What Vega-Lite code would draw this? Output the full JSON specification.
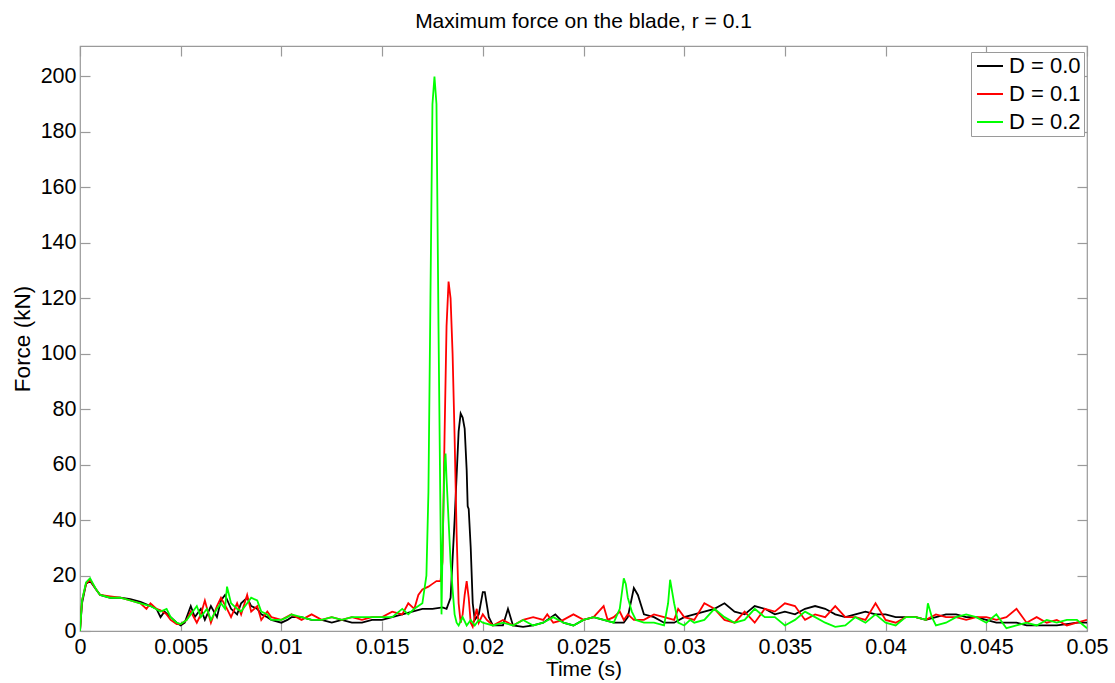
{
"$schema":"https://vega.github.io/schema/vega-lite/v6.json",
"width":1007,"height":585,
"autosize":{"type":"none"},
"padding":{"left":80,"top":46,"right":28,"bottom":52},
"background":"white",
"config":{"font":"Liberation Sans","view":{"stroke":"#9a9a9a","strokeWidth":1.2},
"axis":{"grid":false,"domain":false,"tickColor":"#9a9a9a","tickSize":-10,"tickWidth":1.2,"labelColor":"black","labelFontSize":21.5,"labelFont":"Liberation Sans","titleFont":"Liberation Sans","titleFontWeight":"normal","titleColor":"black","titleFontSize":22.5}},
"title":{"text":"Maximum force on the blade, r = 0.1","fontSize":21,"fontWeight":"normal","font":"Liberation Sans","offset":13,"anchor":"middle","color":"black"},
"datasets":{"s":[
{"t":0,"F":0,"D":"D = 0.0"},{"t":0.0001,"F":10,"D":"D = 0.0"},{"t":0.0003,"F":17,"D":"D = 0.0"},{"t":0.0005,"F":18,"D":"D = 0.0"},{"t":0.0008,"F":15,"D":"D = 0.0"},{"t":0.001,"F":13,"D":"D = 0.0"},{"t":0.0015,"F":12,"D":"D = 0.0"},{"t":0.002,"F":12,"D":"D = 0.0"},{"t":0.0025,"F":11.5,"D":"D = 0.0"},{"t":0.003,"F":10.5,"D":"D = 0.0"},{"t":0.0035,"F":9,"D":"D = 0.0"},{"t":0.0038,"F":8,"D":"D = 0.0"},{"t":0.004,"F":5,"D":"D = 0.0"},{"t":0.0042,"F":7,"D":"D = 0.0"},{"t":0.0045,"F":5,"D":"D = 0.0"},{"t":0.0048,"F":3,"D":"D = 0.0"},{"t":0.005,"F":2,"D":"D = 0.0"},{"t":0.0052,"F":3,"D":"D = 0.0"},{"t":0.0055,"F":9,"D":"D = 0.0"},{"t":0.0057,"F":5,"D":"D = 0.0"},{"t":0.006,"F":8,"D":"D = 0.0"},{"t":0.0062,"F":4,"D":"D = 0.0"},{"t":0.0065,"F":9,"D":"D = 0.0"},{"t":0.0068,"F":5,"D":"D = 0.0"},{"t":0.007,"F":11,"D":"D = 0.0"},{"t":0.0072,"F":13,"D":"D = 0.0"},{"t":0.0075,"F":8,"D":"D = 0.0"},{"t":0.0078,"F":6,"D":"D = 0.0"},{"t":0.008,"F":10,"D":"D = 0.0"},{"t":0.0083,"F":12,"D":"D = 0.0"},{"t":0.0085,"F":9,"D":"D = 0.0"},{"t":0.0088,"F":8,"D":"D = 0.0"},{"t":0.009,"F":6,"D":"D = 0.0"},{"t":0.0093,"F":5,"D":"D = 0.0"},{"t":0.0095,"F":4,"D":"D = 0.0"},{"t":0.01,"F":3,"D":"D = 0.0"},{"t":0.0103,"F":4,"D":"D = 0.0"},{"t":0.0105,"F":5,"D":"D = 0.0"},{"t":0.011,"F":5,"D":"D = 0.0"},{"t":0.0115,"F":4,"D":"D = 0.0"},{"t":0.012,"F":4,"D":"D = 0.0"},{"t":0.0125,"F":3,"D":"D = 0.0"},{"t":0.013,"F":4,"D":"D = 0.0"},{"t":0.0135,"F":3,"D":"D = 0.0"},{"t":0.014,"F":3,"D":"D = 0.0"},{"t":0.0145,"F":4,"D":"D = 0.0"},{"t":0.015,"F":4,"D":"D = 0.0"},{"t":0.0155,"F":5,"D":"D = 0.0"},{"t":0.016,"F":6,"D":"D = 0.0"},{"t":0.0165,"F":7,"D":"D = 0.0"},{"t":0.017,"F":8,"D":"D = 0.0"},{"t":0.0175,"F":8,"D":"D = 0.0"},{"t":0.018,"F":8.5,"D":"D = 0.0"},{"t":0.0182,"F":8,"D":"D = 0.0"},{"t":0.0184,"F":12,"D":"D = 0.0"},{"t":0.0186,"F":40,"D":"D = 0.0"},{"t":0.0188,"F":72,"D":"D = 0.0"},{"t":0.0189,"F":78.5,"D":"D = 0.0"},{"t":0.019,"F":77,"D":"D = 0.0"},{"t":0.0191,"F":73,"D":"D = 0.0"},{"t":0.0192,"F":58,"D":"D = 0.0"},{"t":0.01925,"F":45,"D":"D = 0.0"},{"t":0.0193,"F":44,"D":"D = 0.0"},{"t":0.0194,"F":30,"D":"D = 0.0"},{"t":0.0195,"F":10,"D":"D = 0.0"},{"t":0.0196,"F":4,"D":"D = 0.0"},{"t":0.0198,"F":6,"D":"D = 0.0"},{"t":0.02,"F":14,"D":"D = 0.0"},{"t":0.0201,"F":14,"D":"D = 0.0"},{"t":0.0203,"F":5,"D":"D = 0.0"},{"t":0.0205,"F":2,"D":"D = 0.0"},{"t":0.021,"F":2,"D":"D = 0.0"},{"t":0.02125,"F":8,"D":"D = 0.0"},{"t":0.0215,"F":2,"D":"D = 0.0"},{"t":0.022,"F":1.5,"D":"D = 0.0"},{"t":0.0225,"F":2,"D":"D = 0.0"},{"t":0.023,"F":3,"D":"D = 0.0"},{"t":0.0236,"F":6,"D":"D = 0.0"},{"t":0.024,"F":3,"D":"D = 0.0"},{"t":0.0245,"F":2,"D":"D = 0.0"},{"t":0.025,"F":4,"D":"D = 0.0"},{"t":0.0255,"F":5,"D":"D = 0.0"},{"t":0.026,"F":4,"D":"D = 0.0"},{"t":0.0265,"F":3,"D":"D = 0.0"},{"t":0.027,"F":3,"D":"D = 0.0"},{"t":0.0272,"F":5,"D":"D = 0.0"},{"t":0.0274,"F":12,"D":"D = 0.0"},{"t":0.0275,"F":15.5,"D":"D = 0.0"},{"t":0.0277,"F":13,"D":"D = 0.0"},{"t":0.028,"F":6,"D":"D = 0.0"},{"t":0.0285,"F":5,"D":"D = 0.0"},{"t":0.029,"F":3,"D":"D = 0.0"},{"t":0.0295,"F":3,"D":"D = 0.0"},{"t":0.03,"F":5,"D":"D = 0.0"},{"t":0.0305,"F":6,"D":"D = 0.0"},{"t":0.031,"F":7,"D":"D = 0.0"},{"t":0.0315,"F":8,"D":"D = 0.0"},{"t":0.032,"F":10,"D":"D = 0.0"},{"t":0.0325,"F":7,"D":"D = 0.0"},{"t":0.033,"F":6,"D":"D = 0.0"},{"t":0.0335,"F":9,"D":"D = 0.0"},{"t":0.034,"F":8,"D":"D = 0.0"},{"t":0.0345,"F":6,"D":"D = 0.0"},{"t":0.035,"F":7,"D":"D = 0.0"},{"t":0.0355,"F":6,"D":"D = 0.0"},{"t":0.036,"F":8,"D":"D = 0.0"},{"t":0.0365,"F":9,"D":"D = 0.0"},{"t":0.037,"F":8,"D":"D = 0.0"},{"t":0.0375,"F":6,"D":"D = 0.0"},{"t":0.038,"F":5,"D":"D = 0.0"},{"t":0.0385,"F":6,"D":"D = 0.0"},{"t":0.039,"F":7,"D":"D = 0.0"},{"t":0.0395,"F":6,"D":"D = 0.0"},{"t":0.04,"F":6,"D":"D = 0.0"},{"t":0.0405,"F":5,"D":"D = 0.0"},{"t":0.041,"F":5,"D":"D = 0.0"},{"t":0.0415,"F":5,"D":"D = 0.0"},{"t":0.042,"F":4,"D":"D = 0.0"},{"t":0.0425,"F":5,"D":"D = 0.0"},{"t":0.043,"F":6,"D":"D = 0.0"},{"t":0.0435,"F":6,"D":"D = 0.0"},{"t":0.044,"F":5,"D":"D = 0.0"},{"t":0.0445,"F":5,"D":"D = 0.0"},{"t":0.045,"F":4,"D":"D = 0.0"},{"t":0.0455,"F":3,"D":"D = 0.0"},{"t":0.046,"F":3,"D":"D = 0.0"},{"t":0.0465,"F":3,"D":"D = 0.0"},{"t":0.047,"F":2,"D":"D = 0.0"},{"t":0.0475,"F":2,"D":"D = 0.0"},{"t":0.048,"F":2,"D":"D = 0.0"},{"t":0.0485,"F":2,"D":"D = 0.0"},{"t":0.049,"F":2.5,"D":"D = 0.0"},{"t":0.0495,"F":3,"D":"D = 0.0"},{"t":0.05,"F":3,"D":"D = 0.0"},
{"t":0,"F":0,"D":"D = 0.1"},{"t":0.0001,"F":11,"D":"D = 0.1"},{"t":0.0003,"F":17,"D":"D = 0.1"},{"t":0.0005,"F":18.5,"D":"D = 0.1"},{"t":0.0008,"F":15,"D":"D = 0.1"},{"t":0.001,"F":13,"D":"D = 0.1"},{"t":0.0015,"F":12.5,"D":"D = 0.1"},{"t":0.002,"F":12,"D":"D = 0.1"},{"t":0.0025,"F":11,"D":"D = 0.1"},{"t":0.003,"F":10,"D":"D = 0.1"},{"t":0.0033,"F":8,"D":"D = 0.1"},{"t":0.0035,"F":10,"D":"D = 0.1"},{"t":0.0038,"F":8,"D":"D = 0.1"},{"t":0.004,"F":7.5,"D":"D = 0.1"},{"t":0.0043,"F":6,"D":"D = 0.1"},{"t":0.0045,"F":4,"D":"D = 0.1"},{"t":0.0048,"F":2.5,"D":"D = 0.1"},{"t":0.005,"F":2.5,"D":"D = 0.1"},{"t":0.0053,"F":4,"D":"D = 0.1"},{"t":0.0055,"F":7,"D":"D = 0.1"},{"t":0.0058,"F":3,"D":"D = 0.1"},{"t":0.006,"F":6,"D":"D = 0.1"},{"t":0.0062,"F":11,"D":"D = 0.1"},{"t":0.0065,"F":3,"D":"D = 0.1"},{"t":0.0068,"F":9,"D":"D = 0.1"},{"t":0.007,"F":12,"D":"D = 0.1"},{"t":0.0073,"F":8,"D":"D = 0.1"},{"t":0.0075,"F":5,"D":"D = 0.1"},{"t":0.0078,"F":10,"D":"D = 0.1"},{"t":0.008,"F":6,"D":"D = 0.1"},{"t":0.0083,"F":13,"D":"D = 0.1"},{"t":0.0085,"F":7,"D":"D = 0.1"},{"t":0.0088,"F":9,"D":"D = 0.1"},{"t":0.009,"F":4,"D":"D = 0.1"},{"t":0.0093,"F":7,"D":"D = 0.1"},{"t":0.0095,"F":5,"D":"D = 0.1"},{"t":0.01,"F":4,"D":"D = 0.1"},{"t":0.0105,"F":6,"D":"D = 0.1"},{"t":0.011,"F":4,"D":"D = 0.1"},{"t":0.0115,"F":6,"D":"D = 0.1"},{"t":0.012,"F":4,"D":"D = 0.1"},{"t":0.0125,"F":5,"D":"D = 0.1"},{"t":0.013,"F":4,"D":"D = 0.1"},{"t":0.0135,"F":5,"D":"D = 0.1"},{"t":0.014,"F":4,"D":"D = 0.1"},{"t":0.0145,"F":5,"D":"D = 0.1"},{"t":0.015,"F":5,"D":"D = 0.1"},{"t":0.0155,"F":7,"D":"D = 0.1"},{"t":0.016,"F":6,"D":"D = 0.1"},{"t":0.0163,"F":10,"D":"D = 0.1"},{"t":0.0166,"F":8,"D":"D = 0.1"},{"t":0.0168,"F":13,"D":"D = 0.1"},{"t":0.017,"F":15,"D":"D = 0.1"},{"t":0.0173,"F":16,"D":"D = 0.1"},{"t":0.0175,"F":17,"D":"D = 0.1"},{"t":0.0177,"F":18,"D":"D = 0.1"},{"t":0.0179,"F":18,"D":"D = 0.1"},{"t":0.018,"F":25,"D":"D = 0.1"},{"t":0.0181,"F":70,"D":"D = 0.1"},{"t":0.0182,"F":110,"D":"D = 0.1"},{"t":0.0183,"F":126,"D":"D = 0.1"},{"t":0.0184,"F":120,"D":"D = 0.1"},{"t":0.0185,"F":100,"D":"D = 0.1"},{"t":0.0186,"F":70,"D":"D = 0.1"},{"t":0.0187,"F":35,"D":"D = 0.1"},{"t":0.0188,"F":10,"D":"D = 0.1"},{"t":0.0189,"F":3,"D":"D = 0.1"},{"t":0.019,"F":6,"D":"D = 0.1"},{"t":0.0191,"F":13,"D":"D = 0.1"},{"t":0.0192,"F":18,"D":"D = 0.1"},{"t":0.0193,"F":12,"D":"D = 0.1"},{"t":0.0194,"F":3,"D":"D = 0.1"},{"t":0.0195,"F":1.5,"D":"D = 0.1"},{"t":0.0196,"F":5,"D":"D = 0.1"},{"t":0.0197,"F":8,"D":"D = 0.1"},{"t":0.0198,"F":3,"D":"D = 0.1"},{"t":0.02,"F":6,"D":"D = 0.1"},{"t":0.0202,"F":4,"D":"D = 0.1"},{"t":0.0205,"F":2,"D":"D = 0.1"},{"t":0.021,"F":4,"D":"D = 0.1"},{"t":0.0215,"F":2,"D":"D = 0.1"},{"t":0.022,"F":4,"D":"D = 0.1"},{"t":0.0225,"F":5,"D":"D = 0.1"},{"t":0.023,"F":4,"D":"D = 0.1"},{"t":0.0232,"F":6,"D":"D = 0.1"},{"t":0.0235,"F":3,"D":"D = 0.1"},{"t":0.024,"F":4,"D":"D = 0.1"},{"t":0.0245,"F":6,"D":"D = 0.1"},{"t":0.025,"F":4,"D":"D = 0.1"},{"t":0.0255,"F":5,"D":"D = 0.1"},{"t":0.026,"F":9,"D":"D = 0.1"},{"t":0.0262,"F":4,"D":"D = 0.1"},{"t":0.0265,"F":5,"D":"D = 0.1"},{"t":0.0268,"F":7,"D":"D = 0.1"},{"t":0.027,"F":4,"D":"D = 0.1"},{"t":0.0272,"F":6,"D":"D = 0.1"},{"t":0.0275,"F":4,"D":"D = 0.1"},{"t":0.028,"F":4,"D":"D = 0.1"},{"t":0.0285,"F":6,"D":"D = 0.1"},{"t":0.029,"F":5,"D":"D = 0.1"},{"t":0.0295,"F":4,"D":"D = 0.1"},{"t":0.0297,"F":8,"D":"D = 0.1"},{"t":0.03,"F":5,"D":"D = 0.1"},{"t":0.0305,"F":4,"D":"D = 0.1"},{"t":0.031,"F":10,"D":"D = 0.1"},{"t":0.0315,"F":8,"D":"D = 0.1"},{"t":0.032,"F":4,"D":"D = 0.1"},{"t":0.0325,"F":3,"D":"D = 0.1"},{"t":0.033,"F":7,"D":"D = 0.1"},{"t":0.0335,"F":3,"D":"D = 0.1"},{"t":0.034,"F":8,"D":"D = 0.1"},{"t":0.0345,"F":7,"D":"D = 0.1"},{"t":0.035,"F":10,"D":"D = 0.1"},{"t":0.0355,"F":9,"D":"D = 0.1"},{"t":0.036,"F":4,"D":"D = 0.1"},{"t":0.0365,"F":6,"D":"D = 0.1"},{"t":0.037,"F":5,"D":"D = 0.1"},{"t":0.0375,"F":9,"D":"D = 0.1"},{"t":0.038,"F":5,"D":"D = 0.1"},{"t":0.0385,"F":5,"D":"D = 0.1"},{"t":0.039,"F":4,"D":"D = 0.1"},{"t":0.0395,"F":10,"D":"D = 0.1"},{"t":0.04,"F":4,"D":"D = 0.1"},{"t":0.0405,"F":3,"D":"D = 0.1"},{"t":0.041,"F":5,"D":"D = 0.1"},{"t":0.0415,"F":5,"D":"D = 0.1"},{"t":0.042,"F":4,"D":"D = 0.1"},{"t":0.0425,"F":6,"D":"D = 0.1"},{"t":0.043,"F":5,"D":"D = 0.1"},{"t":0.0435,"F":5,"D":"D = 0.1"},{"t":0.044,"F":4,"D":"D = 0.1"},{"t":0.0445,"F":5,"D":"D = 0.1"},{"t":0.045,"F":5,"D":"D = 0.1"},{"t":0.0455,"F":4,"D":"D = 0.1"},{"t":0.046,"F":5,"D":"D = 0.1"},{"t":0.0465,"F":8,"D":"D = 0.1"},{"t":0.047,"F":3,"D":"D = 0.1"},{"t":0.0475,"F":5,"D":"D = 0.1"},{"t":0.048,"F":3,"D":"D = 0.1"},{"t":0.0485,"F":4,"D":"D = 0.1"},{"t":0.049,"F":2,"D":"D = 0.1"},{"t":0.0495,"F":3,"D":"D = 0.1"},{"t":0.05,"F":4,"D":"D = 0.1"},
{"t":0,"F":0,"D":"D = 0.2"},{"t":0.0001,"F":11,"D":"D = 0.2"},{"t":0.0003,"F":17.5,"D":"D = 0.2"},{"t":0.0005,"F":19,"D":"D = 0.2"},{"t":0.0008,"F":15,"D":"D = 0.2"},{"t":0.001,"F":13,"D":"D = 0.2"},{"t":0.0015,"F":12,"D":"D = 0.2"},{"t":0.002,"F":12,"D":"D = 0.2"},{"t":0.0025,"F":11,"D":"D = 0.2"},{"t":0.003,"F":10,"D":"D = 0.2"},{"t":0.0035,"F":9,"D":"D = 0.2"},{"t":0.004,"F":7,"D":"D = 0.2"},{"t":0.0043,"F":8,"D":"D = 0.2"},{"t":0.0045,"F":5,"D":"D = 0.2"},{"t":0.0048,"F":3,"D":"D = 0.2"},{"t":0.005,"F":2.5,"D":"D = 0.2"},{"t":0.0053,"F":4,"D":"D = 0.2"},{"t":0.0055,"F":6,"D":"D = 0.2"},{"t":0.0058,"F":9,"D":"D = 0.2"},{"t":0.006,"F":5,"D":"D = 0.2"},{"t":0.0063,"F":8,"D":"D = 0.2"},{"t":0.0065,"F":4,"D":"D = 0.2"},{"t":0.0068,"F":8,"D":"D = 0.2"},{"t":0.007,"F":10,"D":"D = 0.2"},{"t":0.0072,"F":8,"D":"D = 0.2"},{"t":0.0073,"F":16,"D":"D = 0.2"},{"t":0.0075,"F":10,"D":"D = 0.2"},{"t":0.0078,"F":8,"D":"D = 0.2"},{"t":0.008,"F":7,"D":"D = 0.2"},{"t":0.0083,"F":10,"D":"D = 0.2"},{"t":0.0085,"F":12,"D":"D = 0.2"},{"t":0.0088,"F":11,"D":"D = 0.2"},{"t":0.009,"F":7,"D":"D = 0.2"},{"t":0.0093,"F":6,"D":"D = 0.2"},{"t":0.0095,"F":4,"D":"D = 0.2"},{"t":0.01,"F":4,"D":"D = 0.2"},{"t":0.0103,"F":5,"D":"D = 0.2"},{"t":0.0105,"F":6,"D":"D = 0.2"},{"t":0.011,"F":5,"D":"D = 0.2"},{"t":0.0115,"F":4,"D":"D = 0.2"},{"t":0.012,"F":4,"D":"D = 0.2"},{"t":0.0125,"F":5,"D":"D = 0.2"},{"t":0.013,"F":4,"D":"D = 0.2"},{"t":0.0135,"F":5,"D":"D = 0.2"},{"t":0.014,"F":5,"D":"D = 0.2"},{"t":0.0145,"F":5,"D":"D = 0.2"},{"t":0.015,"F":5,"D":"D = 0.2"},{"t":0.0155,"F":5,"D":"D = 0.2"},{"t":0.016,"F":8,"D":"D = 0.2"},{"t":0.0163,"F":6,"D":"D = 0.2"},{"t":0.0166,"F":8,"D":"D = 0.2"},{"t":0.017,"F":10,"D":"D = 0.2"},{"t":0.0171,"F":15,"D":"D = 0.2"},{"t":0.0172,"F":20,"D":"D = 0.2"},{"t":0.0173,"F":50,"D":"D = 0.2"},{"t":0.0174,"F":120,"D":"D = 0.2"},{"t":0.0175,"F":190,"D":"D = 0.2"},{"t":0.0176,"F":200,"D":"D = 0.2"},{"t":0.0177,"F":190,"D":"D = 0.2"},{"t":0.0178,"F":110,"D":"D = 0.2"},{"t":0.0179,"F":40,"D":"D = 0.2"},{"t":0.01795,"F":6,"D":"D = 0.2"},{"t":0.018,"F":30,"D":"D = 0.2"},{"t":0.0181,"F":60,"D":"D = 0.2"},{"t":0.01815,"F":64,"D":"D = 0.2"},{"t":0.0182,"F":55,"D":"D = 0.2"},{"t":0.0183,"F":40,"D":"D = 0.2"},{"t":0.0184,"F":25,"D":"D = 0.2"},{"t":0.0185,"F":15,"D":"D = 0.2"},{"t":0.0186,"F":6,"D":"D = 0.2"},{"t":0.0187,"F":3,"D":"D = 0.2"},{"t":0.0188,"F":2,"D":"D = 0.2"},{"t":0.019,"F":5,"D":"D = 0.2"},{"t":0.0192,"F":2,"D":"D = 0.2"},{"t":0.0194,"F":4,"D":"D = 0.2"},{"t":0.0196,"F":2,"D":"D = 0.2"},{"t":0.0198,"F":4,"D":"D = 0.2"},{"t":0.02,"F":3,"D":"D = 0.2"},{"t":0.0205,"F":2,"D":"D = 0.2"},{"t":0.021,"F":3,"D":"D = 0.2"},{"t":0.0215,"F":2,"D":"D = 0.2"},{"t":0.022,"F":4,"D":"D = 0.2"},{"t":0.0225,"F":2,"D":"D = 0.2"},{"t":0.023,"F":3,"D":"D = 0.2"},{"t":0.0235,"F":5,"D":"D = 0.2"},{"t":0.024,"F":3,"D":"D = 0.2"},{"t":0.0245,"F":2,"D":"D = 0.2"},{"t":0.025,"F":4,"D":"D = 0.2"},{"t":0.0255,"F":5,"D":"D = 0.2"},{"t":0.026,"F":4,"D":"D = 0.2"},{"t":0.0265,"F":3,"D":"D = 0.2"},{"t":0.0268,"F":8,"D":"D = 0.2"},{"t":0.027,"F":19,"D":"D = 0.2"},{"t":0.0271,"F":17,"D":"D = 0.2"},{"t":0.0272,"F":12,"D":"D = 0.2"},{"t":0.0274,"F":7,"D":"D = 0.2"},{"t":0.0276,"F":4,"D":"D = 0.2"},{"t":0.028,"F":3,"D":"D = 0.2"},{"t":0.0285,"F":3,"D":"D = 0.2"},{"t":0.029,"F":2,"D":"D = 0.2"},{"t":0.0292,"F":10,"D":"D = 0.2"},{"t":0.0293,"F":18.5,"D":"D = 0.2"},{"t":0.0295,"F":10,"D":"D = 0.2"},{"t":0.0297,"F":3,"D":"D = 0.2"},{"t":0.03,"F":2,"D":"D = 0.2"},{"t":0.0303,"F":4,"D":"D = 0.2"},{"t":0.0305,"F":3,"D":"D = 0.2"},{"t":0.031,"F":4,"D":"D = 0.2"},{"t":0.0315,"F":8,"D":"D = 0.2"},{"t":0.032,"F":5,"D":"D = 0.2"},{"t":0.0325,"F":3,"D":"D = 0.2"},{"t":0.033,"F":4,"D":"D = 0.2"},{"t":0.0335,"F":8,"D":"D = 0.2"},{"t":0.034,"F":5,"D":"D = 0.2"},{"t":0.0345,"F":5,"D":"D = 0.2"},{"t":0.035,"F":2,"D":"D = 0.2"},{"t":0.0355,"F":4,"D":"D = 0.2"},{"t":0.036,"F":7,"D":"D = 0.2"},{"t":0.0365,"F":5,"D":"D = 0.2"},{"t":0.037,"F":3,"D":"D = 0.2"},{"t":0.0375,"F":1.5,"D":"D = 0.2"},{"t":0.038,"F":2,"D":"D = 0.2"},{"t":0.0385,"F":5,"D":"D = 0.2"},{"t":0.039,"F":3,"D":"D = 0.2"},{"t":0.0395,"F":6,"D":"D = 0.2"},{"t":0.04,"F":3,"D":"D = 0.2"},{"t":0.0405,"F":2,"D":"D = 0.2"},{"t":0.041,"F":5,"D":"D = 0.2"},{"t":0.0415,"F":5,"D":"D = 0.2"},{"t":0.042,"F":4,"D":"D = 0.2"},{"t":0.0421,"F":10,"D":"D = 0.2"},{"t":0.0423,"F":5,"D":"D = 0.2"},{"t":0.0425,"F":2,"D":"D = 0.2"},{"t":0.043,"F":3,"D":"D = 0.2"},{"t":0.0435,"F":5,"D":"D = 0.2"},{"t":0.044,"F":6,"D":"D = 0.2"},{"t":0.0445,"F":5,"D":"D = 0.2"},{"t":0.045,"F":3,"D":"D = 0.2"},{"t":0.0455,"F":6,"D":"D = 0.2"},{"t":0.046,"F":1,"D":"D = 0.2"},{"t":0.0465,"F":2,"D":"D = 0.2"},{"t":0.047,"F":3,"D":"D = 0.2"},{"t":0.0475,"F":2,"D":"D = 0.2"},{"t":0.048,"F":4,"D":"D = 0.2"},{"t":0.0485,"F":3,"D":"D = 0.2"},{"t":0.049,"F":4,"D":"D = 0.2"},{"t":0.0495,"F":4,"D":"D = 0.2"},{"t":0.05,"F":1,"D":"D = 0.2"}
]},
"data":{"name":"s"},
"layer":[
{"mark":{"type":"line","strokeWidth":1.8,"clip":true},
 "encoding":{
  "x":{"field":"t","type":"quantitative","scale":{"domain":[0,0.05],"nice":false},
   "axis":{"orient":"bottom","values":[0,0.005,0.01,0.015,0.02,0.025,0.03,0.035,0.04,0.045,0.05],"format":"~g","title":"Time (s)","titleFontSize":21,"labelPadding":15,"titlePadding":1,"labelFlush":false}},
  "y":{"field":"F","type":"quantitative","scale":{"domain":[0,211],"nice":false,"zero":true},
   "axis":{"orient":"left","values":[0,20,40,60,80,100,120,140,160,180,200],"title":"Force (kN)","labelPadding":14,"titlePadding":6}},
  "color":{"field":"D","type":"nominal","scale":{"domain":["D = 0.0","D = 0.1","D = 0.2"],"range":["#000000","#ff0000","#00ff00"]},
   "legend":{"title":null,"orient":"none","legendX":891,"legendY":6,"fillColor":"white","strokeColor":"#9a9a9a","padding":3,"symbolType":"stroke","symbolSize":676,"symbolStrokeWidth":1.8,"symbolOffset":2,"clipHeight":22,"labelFontSize":22,"labelFont":"Liberation Sans","labelColor":"black","rowPadding":6,"labelOffset":5}}
 }},
{"mark":{"type":"line","opacity":0},
 "encoding":{
  "x":{"field":"t","type":"quantitative","axis":{"orient":"top","values":[0,0.005,0.01,0.015,0.02,0.025,0.03,0.035,0.04,0.045,0.05],"labels":false,"title":null}},
  "y":{"field":"F","type":"quantitative","axis":{"orient":"right","values":[0,20,40,60,80,100,120,140,160,180,200],"labels":false,"title":null}},
  "detail":{"field":"D"}
 }}
]
}
